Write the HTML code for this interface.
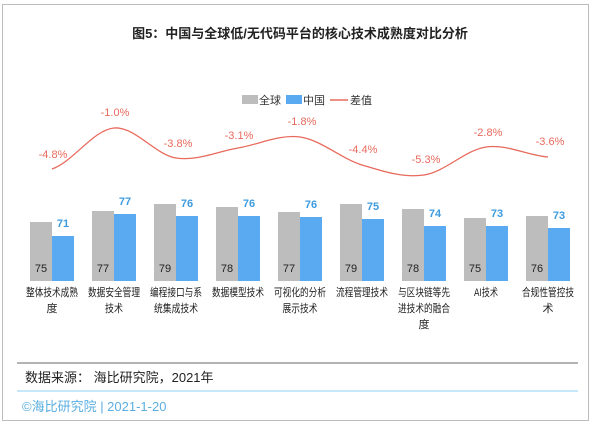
<!DOCTYPE html>
<html><head><meta charset="utf-8"><style>
body{margin:0;background:#fff}
svg{display:block;font-family:"Liberation Sans","Noto Sans CJK SC",sans-serif}
</style></head><body>
<svg width="600" height="425" viewBox="0 0 600 425">
<rect x="2.5" y="4.5" width="586" height="416" fill="#fff" stroke="#bdbdbd" stroke-width="1"/>
<text x="300" y="38" text-anchor="middle" font-size="13" font-weight="bold" fill="#222">图5：中国与全球低/无代码平台的核心技术成熟度对比分析</text>
<rect x="242" y="95" width="16" height="9" fill="#bdbdbd"/><text x="259" y="104" font-size="11" fill="#333">全球</text>
<rect x="286" y="95" width="16" height="9" fill="#5aaaf2"/><text x="303" y="104" font-size="11" fill="#333">中国</text>
<line x1="330" y1="100" x2="348" y2="100" stroke="#e86a5c" stroke-width="1.5"/><text x="350" y="104" font-size="11" fill="#333">差值</text>
<g fill="#bdbdbd">
<rect x="30" y="222" width="22" height="59"/><rect x="92" y="211" width="22" height="70"/><rect x="154" y="204" width="22" height="77"/><rect x="216" y="207" width="22" height="74"/><rect x="278" y="212" width="22" height="69"/><rect x="340" y="204" width="22" height="77"/><rect x="402" y="209" width="22" height="72"/><rect x="464" y="218" width="22" height="63"/><rect x="526" y="216" width="22" height="65"/>
</g>
<g fill="#5aaaf2">
<rect x="52" y="236" width="22" height="45"/><rect x="114" y="214" width="22" height="67"/><rect x="176" y="216" width="22" height="65"/><rect x="238" y="216" width="22" height="65"/><rect x="300" y="217" width="22" height="64"/><rect x="362" y="219" width="22" height="62"/><rect x="424" y="226" width="22" height="55"/><rect x="486" y="226" width="22" height="55"/><rect x="548" y="228" width="22" height="53"/>
</g>
<g font-size="11" fill="#222" text-anchor="middle">
<text x="41" y="272">75</text><text x="103" y="272">77</text><text x="165" y="272">79</text><text x="227" y="272">78</text><text x="289" y="272">77</text><text x="351" y="272">79</text><text x="413" y="272">78</text><text x="475" y="272">75</text><text x="537" y="272">76</text>
</g>
<g font-size="11" font-weight="bold" fill="#3d9be0" text-anchor="middle">
<text x="63" y="227">71</text><text x="125" y="205">77</text><text x="187" y="207">76</text><text x="249" y="207">76</text><text x="311" y="208">76</text><text x="373" y="210">75</text><text x="435" y="217">74</text><text x="497" y="217">73</text><text x="559" y="219">73</text>
</g>
<path d="M52,169 C72.7,162.2 93.3,129.8 114,128 C134.7,126.2 155.3,154.7 176,158 C196.7,161.3 217.3,151.5 238,148 C258.7,144.5 279.3,134.2 300,137 C320.7,139.8 341.3,158.7 362,165 C382.7,171.3 403.3,178 424,175 C444.7,172 465.3,150 486,147 C506.7,144 527.3,155.3 548,157" fill="none" stroke="#e86a5c" stroke-width="1.3"/>
<g font-size="11" fill="#e86a5c" text-anchor="middle">
<text x="53" y="158">-4.8%</text><text x="115" y="116">-1.0%</text><text x="178" y="147">-3.8%</text><text x="239" y="139">-3.1%</text><text x="302" y="125">-1.8%</text><text x="363" y="153">-4.4%</text><text x="426" y="163">-5.3%</text><text x="488" y="136">-2.8%</text><text x="550" y="145">-3.6%</text>
</g>
<g font-size="11" fill="#222" text-anchor="middle" lengthAdjust="spacingAndGlyphs">
<text x="52" y="296" textLength="52" lengthAdjust="spacingAndGlyphs">整体技术成熟</text><text x="52" y="312">度</text>
<text x="114" y="296" textLength="52" lengthAdjust="spacingAndGlyphs">数据安全管理</text><text x="114" y="312" textLength="18" lengthAdjust="spacingAndGlyphs">技术</text>
<text x="176" y="296" textLength="52" lengthAdjust="spacingAndGlyphs">编程接口与系</text><text x="176" y="312" textLength="44" lengthAdjust="spacingAndGlyphs">统集成技术</text>
<text x="238" y="296" textLength="52" lengthAdjust="spacingAndGlyphs">数据模型技术</text>
<text x="300" y="296" textLength="52" lengthAdjust="spacingAndGlyphs">可视化的分析</text><text x="300" y="312" textLength="35" lengthAdjust="spacingAndGlyphs">展示技术</text>
<text x="362" y="296" textLength="52" lengthAdjust="spacingAndGlyphs">流程管理技术</text>
<text x="424" y="296" textLength="52" lengthAdjust="spacingAndGlyphs">与区块链等先</text><text x="424" y="312" textLength="52" lengthAdjust="spacingAndGlyphs">进技术的融合</text><text x="424" y="328">度</text>
<text x="486" y="296" textLength="24" lengthAdjust="spacingAndGlyphs">AI技术</text>
<text x="548" y="296" textLength="52" lengthAdjust="spacingAndGlyphs">合规性管控技</text><text x="548" y="312">术</text>
</g>
<line x1="17" y1="363" x2="578" y2="363" stroke="#888" stroke-width="1.2"/>
<text x="25" y="382" font-size="13" fill="#222">数据来源： 海比研究院，2021年</text>
<line x1="17" y1="391" x2="578" y2="391" stroke="#8fd0f0" stroke-width="1"/>
<text x="22" y="411" font-size="13" fill="#5aaee0">©海比研究院 | 2021-1-20</text>
</svg>
</body></html>
